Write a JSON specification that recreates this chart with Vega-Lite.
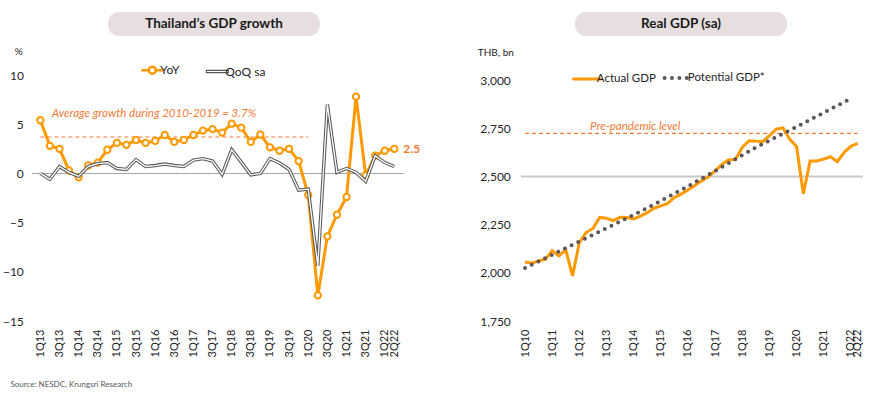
{
  "$schema": "https://vega.github.io/schema/vega-lite/v6.json",
  "background": "white",
  "padding": {"left": 2, "top": 12, "right": 0, "bottom": 0},
  "center": true,
  "spacing": 10,
  "title": {"text": "Source: NESDC, Krungsri Research", "orient": "bottom", "anchor": "start", "fontSize": 8, "fontWeight": "normal", "color": "#595959", "font": "Lato", "offset": 24, "dx": 8},
  "config": {
    "font": "Lato",
    "view": {"stroke": null},
    "axis": {"labelFont": "Lato", "titleFont": "Lato", "labelColor": "#262626", "titleColor": "#262626", "domain": false, "ticks": false},
    "legend": {"labelFont": "Lato", "labelFontSize": 12, "labelColor": "#262626", "padding": 0}
  },
  "datasets": {
    "growth": [
      {"q": "1Q13", "series": "YoY", "v": 5.4}, {"q": "2Q13", "series": "YoY", "v": 2.8}, {"q": "3Q13", "series": "YoY", "v": 2.5}, {"q": "4Q13", "series": "YoY", "v": 0.3},
      {"q": "1Q14", "series": "YoY", "v": -0.4}, {"q": "2Q14", "series": "YoY", "v": 0.8}, {"q": "3Q14", "series": "YoY", "v": 1.1}, {"q": "4Q14", "series": "YoY", "v": 2.4},
      {"q": "1Q15", "series": "YoY", "v": 3.1}, {"q": "2Q15", "series": "YoY", "v": 2.9}, {"q": "3Q15", "series": "YoY", "v": 3.4}, {"q": "4Q15", "series": "YoY", "v": 3.1},
      {"q": "1Q16", "series": "YoY", "v": 3.3}, {"q": "2Q16", "series": "YoY", "v": 3.9}, {"q": "3Q16", "series": "YoY", "v": 3.2}, {"q": "4Q16", "series": "YoY", "v": 3.4},
      {"q": "1Q17", "series": "YoY", "v": 3.9}, {"q": "2Q17", "series": "YoY", "v": 4.35}, {"q": "3Q17", "series": "YoY", "v": 4.5}, {"q": "4Q17", "series": "YoY", "v": 4.15},
      {"q": "1Q18", "series": "YoY", "v": 5.05}, {"q": "2Q18", "series": "YoY", "v": 4.65}, {"q": "3Q18", "series": "YoY", "v": 3.2}, {"q": "4Q18", "series": "YoY", "v": 3.95},
      {"q": "1Q19", "series": "YoY", "v": 2.65}, {"q": "2Q19", "series": "YoY", "v": 2.3}, {"q": "3Q19", "series": "YoY", "v": 2.5}, {"q": "4Q19", "series": "YoY", "v": 1.25},
      {"q": "1Q20", "series": "YoY", "v": -2.2}, {"q": "2Q20", "series": "YoY", "v": -12.4}, {"q": "3Q20", "series": "YoY", "v": -6.4}, {"q": "4Q20", "series": "YoY", "v": -4.2},
      {"q": "1Q21", "series": "YoY", "v": -2.4}, {"q": "2Q21", "series": "YoY", "v": 7.8}, {"q": "3Q21", "series": "YoY", "v": -0.2}, {"q": "4Q21", "series": "YoY", "v": 1.8},
      {"q": "1Q22", "series": "YoY", "v": 2.3}, {"q": "2Q22", "series": "YoY", "v": 2.5},
      {"q": "1Q13", "series": "QoQ sa", "v": 0.0}, {"q": "2Q13", "series": "QoQ sa", "v": -0.6}, {"q": "3Q13", "series": "QoQ sa", "v": 0.7}, {"q": "4Q13", "series": "QoQ sa", "v": 0.1},
      {"q": "1Q14", "series": "QoQ sa", "v": -0.3}, {"q": "2Q14", "series": "QoQ sa", "v": 0.7}, {"q": "3Q14", "series": "QoQ sa", "v": 1.0}, {"q": "4Q14", "series": "QoQ sa", "v": 1.1},
      {"q": "1Q15", "series": "QoQ sa", "v": 0.5}, {"q": "2Q15", "series": "QoQ sa", "v": 0.4}, {"q": "3Q15", "series": "QoQ sa", "v": 1.4}, {"q": "4Q15", "series": "QoQ sa", "v": 0.7},
      {"q": "1Q16", "series": "QoQ sa", "v": 0.8}, {"q": "2Q16", "series": "QoQ sa", "v": 0.95}, {"q": "3Q16", "series": "QoQ sa", "v": 0.8}, {"q": "4Q16", "series": "QoQ sa", "v": 0.7},
      {"q": "1Q17", "series": "QoQ sa", "v": 1.35}, {"q": "2Q17", "series": "QoQ sa", "v": 1.5}, {"q": "3Q17", "series": "QoQ sa", "v": 1.25}, {"q": "4Q17", "series": "QoQ sa", "v": -0.1},
      {"q": "1Q18", "series": "QoQ sa", "v": 2.4}, {"q": "2Q18", "series": "QoQ sa", "v": 1.15}, {"q": "3Q18", "series": "QoQ sa", "v": -0.15}, {"q": "4Q18", "series": "QoQ sa", "v": 0.0},
      {"q": "1Q19", "series": "QoQ sa", "v": 1.5}, {"q": "2Q19", "series": "QoQ sa", "v": 1.05}, {"q": "3Q19", "series": "QoQ sa", "v": 0.4}, {"q": "4Q19", "series": "QoQ sa", "v": -1.7},
      {"q": "1Q20", "series": "QoQ sa", "v": -1.6}, {"q": "2Q20", "series": "QoQ sa", "v": -9.4}, {"q": "3Q20", "series": "QoQ sa", "v": 7.0}, {"q": "4Q20", "series": "QoQ sa", "v": 0.1},
      {"q": "1Q21", "series": "QoQ sa", "v": 0.5}, {"q": "2Q21", "series": "QoQ sa", "v": 0.1}, {"q": "3Q21", "series": "QoQ sa", "v": -0.8}, {"q": "4Q21", "series": "QoQ sa", "v": 1.8},
      {"q": "1Q22", "series": "QoQ sa", "v": 1.1}, {"q": "2Q22", "series": "QoQ sa", "v": 0.7}
    ],
    "gdp": [
      {"q": "1Q10", "series": "Actual GDP", "v": 2056}, {"q": "2Q10", "series": "Actual GDP", "v": 2050}, {"q": "3Q10", "series": "Actual GDP", "v": 2062}, {"q": "4Q10", "series": "Actual GDP", "v": 2070},
      {"q": "1Q11", "series": "Actual GDP", "v": 2115}, {"q": "2Q11", "series": "Actual GDP", "v": 2088}, {"q": "3Q11", "series": "Actual GDP", "v": 2119}, {"q": "4Q11", "series": "Actual GDP", "v": 1984},
      {"q": "1Q12", "series": "Actual GDP", "v": 2157}, {"q": "2Q12", "series": "Actual GDP", "v": 2209}, {"q": "3Q12", "series": "Actual GDP", "v": 2230}, {"q": "4Q12", "series": "Actual GDP", "v": 2287},
      {"q": "1Q13", "series": "Actual GDP", "v": 2283}, {"q": "2Q13", "series": "Actual GDP", "v": 2271}, {"q": "3Q13", "series": "Actual GDP", "v": 2288}, {"q": "4Q13", "series": "Actual GDP", "v": 2287},
      {"q": "1Q14", "series": "Actual GDP", "v": 2280}, {"q": "2Q14", "series": "Actual GDP", "v": 2294}, {"q": "3Q14", "series": "Actual GDP", "v": 2312}, {"q": "4Q14", "series": "Actual GDP", "v": 2335},
      {"q": "1Q15", "series": "Actual GDP", "v": 2347}, {"q": "2Q15", "series": "Actual GDP", "v": 2360}, {"q": "3Q15", "series": "Actual GDP", "v": 2391}, {"q": "4Q15", "series": "Actual GDP", "v": 2408},
      {"q": "1Q16", "series": "Actual GDP", "v": 2430}, {"q": "2Q16", "series": "Actual GDP", "v": 2453}, {"q": "3Q16", "series": "Actual GDP", "v": 2477}, {"q": "4Q16", "series": "Actual GDP", "v": 2498},
      {"q": "1Q17", "series": "Actual GDP", "v": 2529}, {"q": "2Q17", "series": "Actual GDP", "v": 2562}, {"q": "3Q17", "series": "Actual GDP", "v": 2586}, {"q": "4Q17", "series": "Actual GDP", "v": 2588},
      {"q": "1Q18", "series": "Actual GDP", "v": 2650}, {"q": "2Q18", "series": "Actual GDP", "v": 2685}, {"q": "3Q18", "series": "Actual GDP", "v": 2683}, {"q": "4Q18", "series": "Actual GDP", "v": 2680},
      {"q": "1Q19", "series": "Actual GDP", "v": 2711}, {"q": "2Q19", "series": "Actual GDP", "v": 2745}, {"q": "3Q19", "series": "Actual GDP", "v": 2752}, {"q": "4Q19", "series": "Actual GDP", "v": 2692},
      {"q": "1Q20", "series": "Actual GDP", "v": 2655}, {"q": "2Q20", "series": "Actual GDP", "v": 2410}, {"q": "3Q20", "series": "Actual GDP", "v": 2580}, {"q": "4Q20", "series": "Actual GDP", "v": 2580},
      {"q": "1Q21", "series": "Actual GDP", "v": 2590}, {"q": "2Q21", "series": "Actual GDP", "v": 2602}, {"q": "3Q21", "series": "Actual GDP", "v": 2576}, {"q": "4Q21", "series": "Actual GDP", "v": 2624},
      {"q": "1Q22", "series": "Actual GDP", "v": 2656}, {"q": "2Q22", "series": "Actual GDP", "v": 2671},
      {"q": "1Q10", "series": "Potential GDP*", "v": 2025}, {"q": "2Q10", "series": "Potential GDP*", "v": 2042}, {"q": "3Q10", "series": "Potential GDP*", "v": 2059}, {"q": "4Q10", "series": "Potential GDP*", "v": 2076},
      {"q": "1Q11", "series": "Potential GDP*", "v": 2093}, {"q": "2Q11", "series": "Potential GDP*", "v": 2111}, {"q": "3Q11", "series": "Potential GDP*", "v": 2128}, {"q": "4Q11", "series": "Potential GDP*", "v": 2145},
      {"q": "1Q12", "series": "Potential GDP*", "v": 2163}, {"q": "2Q12", "series": "Potential GDP*", "v": 2180}, {"q": "3Q12", "series": "Potential GDP*", "v": 2197}, {"q": "4Q12", "series": "Potential GDP*", "v": 2214},
      {"q": "1Q13", "series": "Potential GDP*", "v": 2232}, {"q": "2Q13", "series": "Potential GDP*", "v": 2249}, {"q": "3Q13", "series": "Potential GDP*", "v": 2266}, {"q": "4Q13", "series": "Potential GDP*", "v": 2283},
      {"q": "1Q14", "series": "Potential GDP*", "v": 2301}, {"q": "2Q14", "series": "Potential GDP*", "v": 2318}, {"q": "3Q14", "series": "Potential GDP*", "v": 2336}, {"q": "4Q14", "series": "Potential GDP*", "v": 2355},
      {"q": "1Q15", "series": "Potential GDP*", "v": 2373}, {"q": "2Q15", "series": "Potential GDP*", "v": 2392}, {"q": "3Q15", "series": "Potential GDP*", "v": 2411}, {"q": "4Q15", "series": "Potential GDP*", "v": 2430},
      {"q": "1Q16", "series": "Potential GDP*", "v": 2449}, {"q": "2Q16", "series": "Potential GDP*", "v": 2469}, {"q": "3Q16", "series": "Potential GDP*", "v": 2489}, {"q": "4Q16", "series": "Potential GDP*", "v": 2508},
      {"q": "1Q17", "series": "Potential GDP*", "v": 2528}, {"q": "2Q17", "series": "Potential GDP*", "v": 2549}, {"q": "3Q17", "series": "Potential GDP*", "v": 2569}, {"q": "4Q17", "series": "Potential GDP*", "v": 2590},
      {"q": "1Q18", "series": "Potential GDP*", "v": 2610}, {"q": "2Q18", "series": "Potential GDP*", "v": 2630}, {"q": "3Q18", "series": "Potential GDP*", "v": 2650}, {"q": "4Q18", "series": "Potential GDP*", "v": 2668},
      {"q": "1Q19", "series": "Potential GDP*", "v": 2686}, {"q": "2Q19", "series": "Potential GDP*", "v": 2704}, {"q": "3Q19", "series": "Potential GDP*", "v": 2721}, {"q": "4Q19", "series": "Potential GDP*", "v": 2739},
      {"q": "1Q20", "series": "Potential GDP*", "v": 2757}, {"q": "2Q20", "series": "Potential GDP*", "v": 2775}, {"q": "3Q20", "series": "Potential GDP*", "v": 2794}, {"q": "4Q20", "series": "Potential GDP*", "v": 2812},
      {"q": "1Q21", "series": "Potential GDP*", "v": 2830}, {"q": "2Q21", "series": "Potential GDP*", "v": 2849}, {"q": "3Q21", "series": "Potential GDP*", "v": 2867}, {"q": "4Q21", "series": "Potential GDP*", "v": 2885},
      {"q": "1Q22", "series": "Potential GDP*", "v": 2903}
    ]
  },
  "vconcat": [
    {
      "spacing": 255,
      "hconcat": [
        {
          "width": 212, "height": 24,
          "view": {"fill": "#E7DFDF", "stroke": null, "cornerRadius": 11},
          "data": {"values": [{"t": "Thailand’s GDP growth"}]},
          "mark": {"type": "text", "font": "Lato", "fontWeight": "bold", "fontSize": 13.5, "color": "#1a1a1a"},
          "encoding": {"text": {"field": "t"}}
        },
        {
          "width": 212, "height": 24,
          "view": {"fill": "#E7DFDF", "stroke": null, "cornerRadius": 11},
          "data": {"values": [{"t": "Real GDP (sa)"}]},
          "mark": {"type": "text", "font": "Lato", "fontWeight": "bold", "fontSize": 13.5, "color": "#1a1a1a"},
          "encoding": {"text": {"field": "t"}}
        }
      ]
    },
    {
      "spacing": 56,
      "resolve": {"scale": {"color": "independent"}, "legend": {"color": "independent"}},
      "hconcat": [
        {
          "width": 372, "height": 246,
          "encoding": {
            "x": {
              "field": "q", "type": "ordinal",
              "scale": {"type": "point", "padding": 0.94, "domain": ["1Q13","2Q13","3Q13","4Q13","1Q14","2Q14","3Q14","4Q14","1Q15","2Q15","3Q15","4Q15","1Q16","2Q16","3Q16","4Q16","1Q17","2Q17","3Q17","4Q17","1Q18","2Q18","3Q18","4Q18","1Q19","2Q19","3Q19","4Q19","1Q20","2Q20","3Q20","4Q20","1Q21","2Q21","3Q21","4Q21","1Q22","2Q22"]},
              "axis": {"title": null, "labelAngle": 270, "labelPadding": 8, "labelFontSize": 11, "labelExpr": "(indexof(datum.value, '1Q') === 0 || indexof(datum.value, '3Q') === 0 || datum.value === '2Q22') ? datum.value : ''"}
            }
          },
          "layer": [
            {
              "data": {"values": [{"q": "1Q13", "q2": "1Q20", "v": 3.7}]},
              "mark": {"type": "rule", "color": "#F47935", "strokeDash": [4, 3], "strokeWidth": 1.2},
              "encoding": {
                "x2": {"field": "q2"},
                "y": {
                  "field": "v", "type": "quantitative",
                  "scale": {"domain": [-15, 10], "nice": false, "zero": false},
                  "axis": {"title": "%", "titleAngle": 0, "titleAlign": "center", "titleBaseline": "middle", "titleX": -13, "titleY": -24, "titleFontWeight": "normal", "titleFontSize": 10, "values": [-15, -10, -5, 0, 5, 10], "labelFontSize": 12, "labelPadding": 8, "grid": true, "gridColor": "#A6A6A6", "gridWidth": 1, "gridOpacity": {"condition": {"test": "datum.value === 0", "value": 1}, "value": 0}}
                }
              }
            },
            {
              "data": {"values": [{"q": "2Q13", "v": 6.0, "label": "Average growth during 2010-2019 = 3.7%"}]},
              "mark": {"type": "text", "align": "left", "baseline": "middle", "dx": 2, "fontStyle": "italic", "fontSize": 11.5, "color": "#F47935"},
              "encoding": {"y": {"field": "v", "type": "quantitative"}, "text": {"field": "label"}}
            },
            {
              "data": {"name": "growth"},
              "transform": [{"filter": "datum.series === 'YoY'"}],
              "mark": {"type": "line", "strokeWidth": 3},
              "encoding": {
                "y": {"field": "v", "type": "quantitative"},
                "color": {
                  "field": "series", "type": "nominal",
                  "scale": {"domain": ["YoY", "QoQ sa"], "range": ["#FF9900", "#595959"]},
                  "legend": {
                    "title": null, "orient": "none", "direction": "horizontal", "legendX": 115, "legendY": -11,
                    "symbolSize": 484, "labelOffset": 2, "columnPadding": 23,
                    "encode": {"symbols": {"update": {
                      "shape": {"signal": "datum.value === 'YoY' ? 'M-1,0H-0.32M0.32,0H1M-0.32,0A0.32,0.32 0 1,0 0.32,0A0.32,0.32 0 1,0 -0.32,0' : 'M-1,-0.1H1V0.1H-1Z'"},
                      "fill": {"value": "white"},
                      "strokeWidth": {"signal": "datum.value === 'YoY' ? 2.5 : 1.1"}
                    }}}
                  }
                }
              }
            },
            {
              "data": {"name": "growth"},
              "transform": [{"filter": "datum.series === 'YoY'"}],
              "mark": {"type": "point", "filled": true, "fill": "white", "stroke": "#FF9900", "strokeWidth": 2, "size": 40, "opacity": 1},
              "encoding": {"y": {"field": "v", "type": "quantitative"}}
            },
            {
              "data": {"name": "growth"},
              "transform": [{"filter": "datum.series === 'QoQ sa'"}],
              "mark": {"type": "line", "strokeWidth": 3.4},
              "encoding": {
                "y": {"field": "v", "type": "quantitative"},
                "color": {"field": "series", "type": "nominal", "scale": {"domain": ["YoY", "QoQ sa"], "range": ["#FF9900", "#595959"]}}
              }
            },
            {
              "data": {"name": "growth"},
              "transform": [{"filter": "datum.series === 'QoQ sa'"}],
              "mark": {"type": "line", "strokeWidth": 1.3, "color": "white"},
              "encoding": {"y": {"field": "v", "type": "quantitative"}}
            },
            {
              "data": {"values": [{"q": "2Q22", "v": 2.5, "label": "2.5"}]},
              "mark": {"type": "text", "align": "left", "baseline": "middle", "dx": 9, "fontWeight": "bold", "fontSize": 12, "color": "#F47935"},
              "encoding": {"y": {"field": "v", "type": "quantitative"}, "text": {"field": "label"}}
            }
          ]
        },
        {
          "width": 342, "height": 246,
          "encoding": {
            "x": {
              "field": "q", "type": "ordinal",
              "scale": {"type": "point", "padding": 0.69, "domain": ["1Q10","2Q10","3Q10","4Q10","1Q11","2Q11","3Q11","4Q11","1Q12","2Q12","3Q12","4Q12","1Q13","2Q13","3Q13","4Q13","1Q14","2Q14","3Q14","4Q14","1Q15","2Q15","3Q15","4Q15","1Q16","2Q16","3Q16","4Q16","1Q17","2Q17","3Q17","4Q17","1Q18","2Q18","3Q18","4Q18","1Q19","2Q19","3Q19","4Q19","1Q20","2Q20","3Q20","4Q20","1Q21","2Q21","3Q21","4Q21","1Q22","2Q22"]},
              "axis": {"title": null, "labelAngle": 270, "labelPadding": 8, "labelFontSize": 11, "labelExpr": "(indexof(datum.value, '1Q') === 0 || datum.value === '2Q22') ? datum.value : ''"}
            }
          },
          "layer": [
            {
              "data": {"values": [{"q": "1Q10", "q2": "2Q22", "v": 2723}]},
              "mark": {"type": "rule", "color": "#F47935", "strokeDash": [4, 3], "strokeWidth": 1.2},
              "encoding": {
                "x2": {"field": "q2"},
                "y": {
                  "field": "v", "type": "quantitative",
                  "scale": {"domain": [1750, 3026], "nice": false, "zero": false},
                  "axis": {"title": "THB, bn", "titleAngle": 0, "titleAlign": "center", "titleBaseline": "middle", "titleX": -25, "titleY": -23, "titleFontWeight": "normal", "titleFontSize": 10, "values": [1750, 2000, 2250, 2500, 2750, 3000], "labelExpr": "format(datum.value, ',')", "labelFontSize": 12, "labelPadding": 10, "grid": true, "gridColor": "#C8C8C8", "gridWidth": 2, "gridOpacity": {"condition": {"test": "datum.value === 2500", "value": 1}, "value": 0}}
                }
              }
            },
            {
              "data": {"values": [{"q": "2Q12", "v": 2757, "label": "Pre-pandemic level"}]},
              "mark": {"type": "text", "align": "left", "baseline": "middle", "dx": 4, "fontStyle": "italic", "fontSize": 11.5, "color": "#F47935"},
              "encoding": {"y": {"field": "v", "type": "quantitative"}, "text": {"field": "label"}}
            },
            {
              "data": {"name": "gdp"},
              "transform": [{"filter": "datum.series === 'Actual GDP'"}],
              "mark": {"type": "line", "strokeWidth": 3},
              "encoding": {
                "y": {"field": "v", "type": "quantitative"},
                "color": {
                  "field": "series", "type": "nominal",
                  "scale": {"domain": ["Actual GDP", "Potential GDP*"], "range": ["#FF9900", "#5F5559"]},
                  "legend": {
                    "title": null, "orient": "none", "direction": "horizontal", "legendX": 61, "legendY": -3,
                    "symbolType": "stroke", "symbolSize": 729, "labelOffset": 4, "columnPadding": 0, "labelFontSize": 11.5,
                    "encode": {"symbols": {"update": {
                      "strokeDash": {"signal": "datum.value === 'Potential GDP*' ? [0, 7.4] : [1, 0]"},
                      "strokeCap": {"value": "round"},
                      "strokeWidth": {"signal": "datum.value === 'Potential GDP*' ? 4 : 3"}
                    }}}
                  }
                }
              }
            },
            {
              "data": {"name": "gdp"},
              "transform": [{"filter": "datum.series === 'Potential GDP*'"}],
              "mark": {"type": "line", "strokeWidth": 4, "strokeDash": [0, 7.4], "strokeCap": "round"},
              "encoding": {
                "y": {"field": "v", "type": "quantitative"},
                "color": {"field": "series", "type": "nominal", "scale": {"domain": ["Actual GDP", "Potential GDP*"], "range": ["#FF9900", "#5F5559"]}}
              }
            }
          ]
        }
      ]
    }
  ]
}
